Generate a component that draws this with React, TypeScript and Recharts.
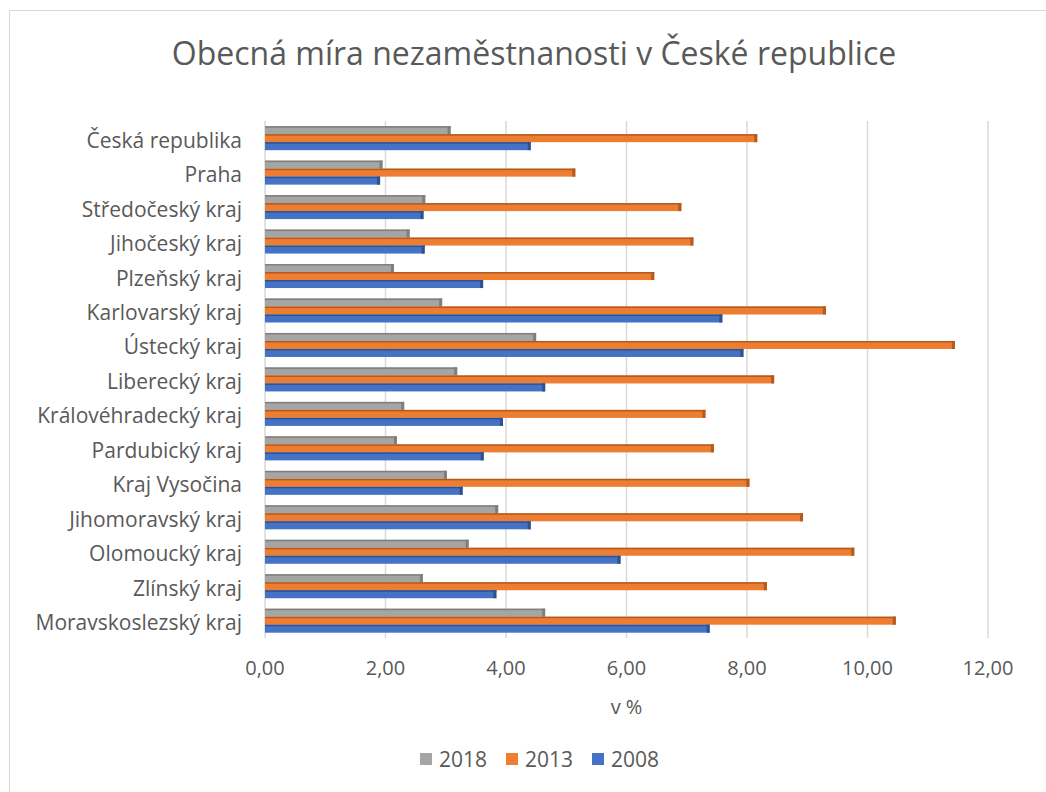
import { BarChart, Bar, XAxis, YAxis, CartesianGrid, Legend } from "recharts";

const regions = [
  "Česká republika",
  "Praha",
  "Středočeský kraj",
  "Jihočeský kraj",
  "Plzeňský kraj",
  "Karlovarský kraj",
  "Ústecký kraj",
  "Liberecký kraj",
  "Královéhradecký kraj",
  "Pardubický kraj",
  "Kraj Vysočina",
  "Jihomoravský kraj",
  "Olomoucký kraj",
  "Zlínský kraj",
  "Moravskoslezský kraj",
];

const rate2018 = [3.08, 1.95, 2.66, 2.4, 2.14, 2.94, 4.5, 3.19, 2.31, 2.19, 3.02, 3.87, 3.38, 2.62, 4.65];
const rate2013 = [8.17, 5.15, 6.91, 7.11, 6.46, 9.31, 11.45, 8.45, 7.31, 7.45, 8.04, 8.93, 9.78, 8.33, 10.47];
const rate2008 = [4.41, 1.91, 2.63, 2.65, 3.62, 7.59, 7.94, 4.65, 3.95, 3.63, 3.28, 4.41, 5.9, 3.84, 7.38];

const xTicks = [0, 2, 4, 6, 8, 10, 12];

const series = [
  { key: "y2018", name: "2018", color: "#A5A5A5", edge: "#7F7F7F" },
  { key: "y2013", name: "2013", color: "#ED7D31", edge: "#B35A1F" },
  { key: "y2008", name: "2008", color: "#4472C4", edge: "#2F528F" },
];

const data = regions.map((region, i) => ({
  region,
  y2018: rate2018[i],
  y2013: rate2013[i],
  y2008: rate2008[i],
}));

const FONT = "'Open Sans', 'Noto Sans', sans-serif";
const TEXT = "#595959";

// flat bar with a darker end cap and top edge, a hint of the 3D look
function makeShape(color: string, edge: string) {
  return (props: any) => {
    const { x, y, width, height } = props;
    if (!width || width <= 0) return <g />;
    const cap = Math.min(3, width);
    return (
      <g>
        <rect x={x} y={y} width={width} height={height} fill={color} />
        <rect x={x} y={y} width={width} height={1.5} fill={edge} />
        <rect x={x + width - cap} y={y} width={cap} height={height} fill={edge} />
      </g>
    );
  };
}

function LegendBox() {
  return (
    <div style={{ display: "flex", gap: 19, height: 26, alignItems: "center", fontFamily: FONT, fontSize: 21, color: TEXT }}>
      {series.map((s) => (
        <div key={s.key} style={{ display: "flex", alignItems: "center" }}>
          <span style={{ width: 12, height: 12, background: s.color, marginRight: 7 }} />
          {s.name}
        </div>
      ))}
    </div>
  );
}

export default function App() {
  return (
    <div style={{ position: "absolute", left: 0, top: 0, width: 1046, height: 792, background: "#fff", overflow: "hidden" }}>
      <div
        style={{
          position: "absolute",
          left: 9,
          top: 10,
          width: 1060,
          height: 800,
          border: "1.5px solid #d9d9d9",
        }}
      />
      <div
        style={{
          position: "absolute",
          left: 0,
          width: 1068,
          top: 31,
          textAlign: "center",
          fontFamily: FONT,
          fontSize: 32,
          color: TEXT,
        }}
      >
        Obecná míra nezaměstnanosti v České republice
      </div>
      <div style={{ position: "absolute", left: 0, top: 0 }}>
        <BarChart
          width={1046}
          height={792}
          data={data}
          layout="vertical"
          margin={{ top: 121, right: 58, bottom: 98, left: 10 }}
          barCategoryGap="15%"
          barGap={0}
        >
          <CartesianGrid horizontal={false} stroke="#d9d9d9" strokeWidth={1.5} />
          <XAxis
            type="number"
            domain={[0, 12]}
            ticks={xTicks}
            tickFormatter={(v) => Number(v).toFixed(2).replace(".", ",")}
            axisLine={false}
            tickLine={false}
            tickSize={0}
            tickMargin={23}
            tick={{ fontSize: 20, fill: TEXT, fontFamily: FONT }}
            label={{ value: "v %", position: "bottom", offset: 32, fontSize: 20, fill: TEXT, fontFamily: FONT }}
          />
          <YAxis
            type="category"
            dataKey="region"
            width={255}
            axisLine={false}
            tickLine={false}
            tickSize={0}
            tickMargin={23}
            interval={0}
            tick={{ fontSize: 21, fill: TEXT, fontFamily: FONT, dy: 2 }}
          />
          <Legend
            verticalAlign="bottom"
            content={() => <LegendBox />}
            wrapperStyle={{ left: 420, top: 746, width: "auto" }}
          />
          {series.map((s) => (
            <Bar
              key={s.key}
              dataKey={s.key}
              name={s.name}
              fill={s.color}
              shape={makeShape(s.color, s.edge)}
              isAnimationActive={false}
            />
          ))}
        </BarChart>
      </div>
    </div>
  );
}
